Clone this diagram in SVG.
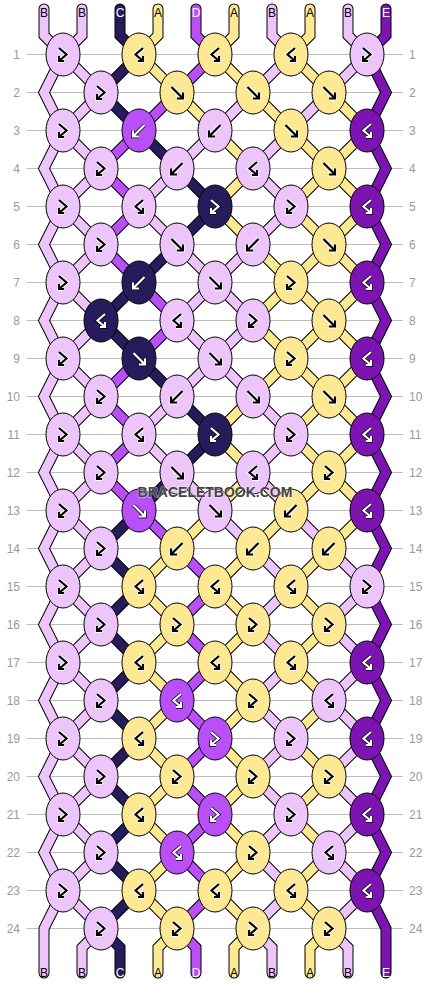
<svg xmlns="http://www.w3.org/2000/svg" xmlns:xlink="http://www.w3.org/1999/xlink" width="430" height="984" viewBox="0 0 430 984">
<style>
.grid line{stroke:#bdbdbd;stroke-width:1}
.num{font-family:"Liberation Sans",Arial,sans-serif;font-size:12px;fill:#9a9a9a}
.o{fill:none;stroke:#000;stroke-width:11;stroke-linecap:round;stroke-linejoin:miter}
.f{fill:none;stroke-width:9;stroke-linecap:round;stroke-linejoin:miter}
.sB{stroke:#eec5fb}.sA{stroke:#fde994}.sC{stroke:#261c5c}.sD{stroke:#b94ff6}.sE{stroke:#7c14b1}
ellipse{stroke:#000;stroke-width:1}
.cB{fill:#eec5fb}.cA{fill:#fde994}.cC{fill:#261c5c}.cD{fill:#b94ff6}.cE{fill:#7c14b1}
.hw{fill:none;stroke:#fff;stroke-width:4;stroke-linejoin:miter}
.ik{fill:none;stroke:#000;stroke-width:2.2;stroke-linejoin:miter}
.hk{fill:none;stroke:#000;stroke-width:3.6;stroke-linejoin:miter}
.iw{fill:none;stroke:#fff;stroke-width:2.2;stroke-linejoin:miter}
.lab{font-family:"Liberation Sans",Arial,sans-serif;font-size:12px;text-anchor:middle}
.lk{fill:#000}.lw{fill:#fff}
.wm{font-family:"Liberation Sans",Arial,sans-serif;font-size:14px;font-weight:bold;text-anchor:middle;fill:#444;stroke:#fff;stroke-width:1.2;stroke-opacity:0.6;paint-order:stroke}
</style>
<defs>
<path id="dF" d="M-5.5,-5.5 L5.5,5.5 M0,6 H6 V0"/>
<path id="dB" d="M5.5,-5.5 L-5.5,5.5 M0,6 H-6 V0"/>
<path id="dFB" d="M-4,-6.5 L3.5,0 L-4,6.5 M-4,1.5 V6.5 H1"/>
<path id="dBF" d="M4,-6.5 L-3.5,0 L4,6.5 M4,1.5 V6.5 H-1"/>
<g id="kF"><use href="#dF" class="hw"/><use href="#dF" class="ik"/></g>
<g id="kB"><use href="#dB" class="hw"/><use href="#dB" class="ik"/></g>
<g id="kFB"><use href="#dFB" class="hw"/><use href="#dFB" class="ik"/></g>
<g id="kBF"><use href="#dBF" class="hw"/><use href="#dBF" class="ik"/></g>
<g id="wF"><use href="#dF" class="hk"/><use href="#dF" class="iw"/></g>
<g id="wB"><use href="#dB" class="hk"/><use href="#dB" class="iw"/></g>
<g id="wFB"><use href="#dFB" class="hk"/><use href="#dFB" class="iw"/></g>
<g id="wBF"><use href="#dBF" class="hk"/><use href="#dBF" class="iw"/></g>
<path id="s0" d="M44,9 V35.5 L63,54.5 L44,92.5 L63,130.5 L44,168.5 L63,206.5 L44,244.5 L63,282.5 L44,320.5 L63,358.5 L44,396.5 L63,434.5 L44,472.5 L63,510.5 L44,548.5 L63,586.5 L44,624.5 L63,662.5 L44,700.5 L63,738.5 L44,776.5 L63,814.5 L44,852.5 L63,890.5 L44,928.5 V973"/>
<path id="s1" d="M82,9 V35.5 L63,54.5 L101,92.5 L63,130.5 L101,168.5 L63,206.5 L101,244.5 L63,282.5 L101,320.5 L63,358.5 L101,396.5 L63,434.5 L101,472.5 L63,510.5 L101,548.5 L63,586.5 L101,624.5 L63,662.5 L101,700.5 L63,738.5 L101,776.5 L63,814.5 L101,852.5 L63,890.5 L101,928.5 L82,947.5 V973"/>
<path id="s2" d="M120,9 V35.5 L139,54.5 L101,92.5 L139,130.5 L177,168.5 L215,206.5 L177,244.5 L139,282.5 L101,320.5 L139,358.5 L177,396.5 L215,434.5 L177,472.5 L139,510.5 L101,548.5 L139,586.5 L101,624.5 L139,662.5 L101,700.5 L139,738.5 L101,776.5 L139,814.5 L101,852.5 L139,890.5 L101,928.5 L120,947.5 V973"/>
<path id="s3" d="M158,9 V35.5 L139,54.5 L177,92.5 L215,130.5 L253,168.5 L215,206.5 L253,244.5 L291,282.5 L253,320.5 L291,358.5 L253,396.5 L215,434.5 L253,472.5 L215,510.5 L177,548.5 L139,586.5 L177,624.5 L139,662.5 L177,700.5 L139,738.5 L177,776.5 L139,814.5 L177,852.5 L139,890.5 L177,928.5 L158,947.5 V973"/>
<path id="s4" d="M196,9 V35.5 L215,54.5 L177,92.5 L139,130.5 L101,168.5 L139,206.5 L101,244.5 L139,282.5 L177,320.5 L139,358.5 L101,396.5 L139,434.5 L101,472.5 L139,510.5 L177,548.5 L215,586.5 L177,624.5 L215,662.5 L177,700.5 L215,738.5 L177,776.5 L215,814.5 L177,852.5 L215,890.5 L177,928.5 L196,947.5 V973"/>
<path id="s5" d="M234,9 V35.5 L215,54.5 L253,92.5 L291,130.5 L329,168.5 L367,206.5 L329,244.5 L291,282.5 L329,320.5 L367,358.5 L329,396.5 L291,434.5 L329,472.5 L291,510.5 L253,548.5 L215,586.5 L253,624.5 L215,662.5 L253,700.5 L215,738.5 L253,776.5 L215,814.5 L253,852.5 L215,890.5 L253,928.5 L234,947.5 V973"/>
<path id="s6" d="M272,9 V35.5 L291,54.5 L253,92.5 L215,130.5 L177,168.5 L139,206.5 L177,244.5 L215,282.5 L253,320.5 L215,358.5 L177,396.5 L139,434.5 L177,472.5 L215,510.5 L253,548.5 L291,586.5 L253,624.5 L291,662.5 L253,700.5 L291,738.5 L253,776.5 L291,814.5 L253,852.5 L291,890.5 L253,928.5 L272,947.5 V973"/>
<path id="s7" d="M310,9 V35.5 L291,54.5 L329,92.5 L367,130.5 L329,168.5 L291,206.5 L329,244.5 L367,282.5 L329,320.5 L291,358.5 L329,396.5 L367,434.5 L329,472.5 L367,510.5 L329,548.5 L291,586.5 L329,624.5 L291,662.5 L329,700.5 L291,738.5 L329,776.5 L291,814.5 L329,852.5 L291,890.5 L329,928.5 L310,947.5 V973"/>
<path id="s8" d="M348,9 V35.5 L367,54.5 L329,92.5 L291,130.5 L253,168.5 L291,206.5 L253,244.5 L215,282.5 L177,320.5 L215,358.5 L253,396.5 L291,434.5 L253,472.5 L291,510.5 L329,548.5 L367,586.5 L329,624.5 L367,662.5 L329,700.5 L367,738.5 L329,776.5 L367,814.5 L329,852.5 L367,890.5 L329,928.5 L348,947.5 V973"/>
<path id="s9" d="M386,9 V35.5 L367,54.5 L386,92.5 L367,130.5 L386,168.5 L367,206.5 L386,244.5 L367,282.5 L386,320.5 L367,358.5 L386,396.5 L367,434.5 L386,472.5 L367,510.5 L386,548.5 L367,586.5 L386,624.5 L367,662.5 L386,700.5 L367,738.5 L386,776.5 L367,814.5 L386,852.5 L367,890.5 L386,928.5 V973"/>
</defs>
<rect width="430" height="984" fill="#fff"/>
<g class="grid">
<line x1="27" x2="403" y1="54.5" y2="54.5"/><line x1="27" x2="403" y1="92.5" y2="92.5"/><line x1="27" x2="403" y1="130.5" y2="130.5"/><line x1="27" x2="403" y1="168.5" y2="168.5"/><line x1="27" x2="403" y1="206.5" y2="206.5"/><line x1="27" x2="403" y1="244.5" y2="244.5"/><line x1="27" x2="403" y1="282.5" y2="282.5"/><line x1="27" x2="403" y1="320.5" y2="320.5"/><line x1="27" x2="403" y1="358.5" y2="358.5"/><line x1="27" x2="403" y1="396.5" y2="396.5"/><line x1="27" x2="403" y1="434.5" y2="434.5"/><line x1="27" x2="403" y1="472.5" y2="472.5"/><line x1="27" x2="403" y1="510.5" y2="510.5"/><line x1="27" x2="403" y1="548.5" y2="548.5"/><line x1="27" x2="403" y1="586.5" y2="586.5"/><line x1="27" x2="403" y1="624.5" y2="624.5"/><line x1="27" x2="403" y1="662.5" y2="662.5"/><line x1="27" x2="403" y1="700.5" y2="700.5"/><line x1="27" x2="403" y1="738.5" y2="738.5"/><line x1="27" x2="403" y1="776.5" y2="776.5"/><line x1="27" x2="403" y1="814.5" y2="814.5"/><line x1="27" x2="403" y1="852.5" y2="852.5"/><line x1="27" x2="403" y1="890.5" y2="890.5"/><line x1="27" x2="403" y1="928.5" y2="928.5"/>
</g>
<g class="num" text-anchor="end">
<text x="20" y="59">1</text><text x="20" y="97">2</text><text x="20" y="135">3</text><text x="20" y="173">4</text><text x="20" y="211">5</text><text x="20" y="249">6</text><text x="20" y="287">7</text><text x="20" y="325">8</text><text x="20" y="363">9</text><text x="20" y="401">10</text><text x="20" y="439">11</text><text x="20" y="477">12</text><text x="20" y="515">13</text><text x="20" y="553">14</text><text x="20" y="591">15</text><text x="20" y="629">16</text><text x="20" y="667">17</text><text x="20" y="705">18</text><text x="20" y="743">19</text><text x="20" y="781">20</text><text x="20" y="819">21</text><text x="20" y="857">22</text><text x="20" y="895">23</text><text x="20" y="933">24</text>
</g>
<g class="num">
<text x="409" y="59">1</text><text x="409" y="97">2</text><text x="409" y="135">3</text><text x="409" y="173">4</text><text x="409" y="211">5</text><text x="409" y="249">6</text><text x="409" y="287">7</text><text x="409" y="325">8</text><text x="409" y="363">9</text><text x="409" y="401">10</text><text x="409" y="439">11</text><text x="409" y="477">12</text><text x="409" y="515">13</text><text x="409" y="553">14</text><text x="409" y="591">15</text><text x="409" y="629">16</text><text x="409" y="667">17</text><text x="409" y="705">18</text><text x="409" y="743">19</text><text x="409" y="781">20</text><text x="409" y="819">21</text><text x="409" y="857">22</text><text x="409" y="895">23</text><text x="409" y="933">24</text>
</g>
<g id="connectors">
<g id="outlines">
<use href="#s0" class="o"/><use href="#s1" class="o"/><use href="#s2" class="o"/><use href="#s3" class="o"/><use href="#s4" class="o"/><use href="#s5" class="o"/><use href="#s6" class="o"/><use href="#s7" class="o"/><use href="#s8" class="o"/><use href="#s9" class="o"/>
</g>
<g id="strands">
<use href="#s0" class="f sB"/><use href="#s1" class="f sB"/><use href="#s2" class="f sC"/><use href="#s3" class="f sA"/><use href="#s4" class="f sD"/><use href="#s5" class="f sA"/><use href="#s6" class="f sB"/><use href="#s7" class="f sA"/><use href="#s8" class="f sB"/><use href="#s9" class="f sE"/>
</g>
<g id="labels" class="lab">
<text x="44" y="17" class="lk">B</text><text x="82" y="17" class="lk">B</text><text x="120" y="17" class="lw">C</text><text x="158" y="17" class="lk">A</text><text x="196" y="17" class="lw">D</text><text x="234" y="17" class="lk">A</text><text x="272" y="17" class="lk">B</text><text x="310" y="17" class="lk">A</text><text x="348" y="17" class="lk">B</text><text x="386" y="17" class="lw">E</text>
<text x="44" y="977" class="lk">B</text><text x="82" y="977" class="lk">B</text><text x="120" y="977" class="lw">C</text><text x="158" y="977" class="lk">A</text><text x="196" y="977" class="lw">D</text><text x="234" y="977" class="lk">A</text><text x="272" y="977" class="lk">B</text><text x="310" y="977" class="lk">A</text><text x="348" y="977" class="lk">B</text><text x="386" y="977" class="lw">E</text>
</g>
</g>
<g id="knots">
<g id="k1-1"><ellipse cx="63" cy="54.5" rx="17" ry="21.5" class="cB"/><use href="#kFB" x="63" y="54.5"/></g>
<g id="k1-2"><ellipse cx="139" cy="54.5" rx="17" ry="21.5" class="cA"/><use href="#kBF" x="139" y="54.5"/></g>
<g id="k1-3"><ellipse cx="215" cy="54.5" rx="17" ry="21.5" class="cA"/><use href="#kBF" x="215" y="54.5"/></g>
<g id="k1-4"><ellipse cx="291" cy="54.5" rx="17" ry="21.5" class="cA"/><use href="#kBF" x="291" y="54.5"/></g>
<g id="k1-5"><ellipse cx="367" cy="54.5" rx="17" ry="21.5" class="cB"/><use href="#kFB" x="367" y="54.5"/></g>
<g id="k2-1"><ellipse cx="101" cy="92.5" rx="17" ry="21.5" class="cB"/><use href="#kFB" x="101" y="92.5"/></g>
<g id="k2-2"><ellipse cx="177" cy="92.5" rx="17" ry="21.5" class="cA"/><use href="#kF" x="177" y="92.5"/></g>
<g id="k2-3"><ellipse cx="253" cy="92.5" rx="17" ry="21.5" class="cA"/><use href="#kF" x="253" y="92.5"/></g>
<g id="k2-4"><ellipse cx="329" cy="92.5" rx="17" ry="21.5" class="cA"/><use href="#kF" x="329" y="92.5"/></g>
<g id="k3-1"><ellipse cx="63" cy="130.5" rx="17" ry="21.5" class="cB"/><use href="#kFB" x="63" y="130.5"/></g>
<g id="k3-2"><ellipse cx="139" cy="130.5" rx="17" ry="21.5" class="cD"/><use href="#wB" x="139" y="130.5"/></g>
<g id="k3-3"><ellipse cx="215" cy="130.5" rx="17" ry="21.5" class="cB"/><use href="#kB" x="215" y="130.5"/></g>
<g id="k3-4"><ellipse cx="291" cy="130.5" rx="17" ry="21.5" class="cA"/><use href="#kF" x="291" y="130.5"/></g>
<g id="k3-5"><ellipse cx="367" cy="130.5" rx="17" ry="21.5" class="cE"/><use href="#wBF" x="367" y="130.5"/></g>
<g id="k4-1"><ellipse cx="101" cy="168.5" rx="17" ry="21.5" class="cB"/><use href="#kFB" x="101" y="168.5"/></g>
<g id="k4-2"><ellipse cx="177" cy="168.5" rx="17" ry="21.5" class="cB"/><use href="#kB" x="177" y="168.5"/></g>
<g id="k4-3"><ellipse cx="253" cy="168.5" rx="17" ry="21.5" class="cB"/><use href="#kBF" x="253" y="168.5"/></g>
<g id="k4-4"><ellipse cx="329" cy="168.5" rx="17" ry="21.5" class="cA"/><use href="#kF" x="329" y="168.5"/></g>
<g id="k5-1"><ellipse cx="63" cy="206.5" rx="17" ry="21.5" class="cB"/><use href="#kFB" x="63" y="206.5"/></g>
<g id="k5-2"><ellipse cx="139" cy="206.5" rx="17" ry="21.5" class="cB"/><use href="#kBF" x="139" y="206.5"/></g>
<g id="k5-3"><ellipse cx="215" cy="206.5" rx="17" ry="21.5" class="cC"/><use href="#wFB" x="215" y="206.5"/></g>
<g id="k5-4"><ellipse cx="291" cy="206.5" rx="17" ry="21.5" class="cB"/><use href="#kFB" x="291" y="206.5"/></g>
<g id="k5-5"><ellipse cx="367" cy="206.5" rx="17" ry="21.5" class="cE"/><use href="#wBF" x="367" y="206.5"/></g>
<g id="k6-1"><ellipse cx="101" cy="244.5" rx="17" ry="21.5" class="cB"/><use href="#kFB" x="101" y="244.5"/></g>
<g id="k6-2"><ellipse cx="177" cy="244.5" rx="17" ry="21.5" class="cB"/><use href="#kF" x="177" y="244.5"/></g>
<g id="k6-3"><ellipse cx="253" cy="244.5" rx="17" ry="21.5" class="cB"/><use href="#kB" x="253" y="244.5"/></g>
<g id="k6-4"><ellipse cx="329" cy="244.5" rx="17" ry="21.5" class="cA"/><use href="#kF" x="329" y="244.5"/></g>
<g id="k7-1"><ellipse cx="63" cy="282.5" rx="17" ry="21.5" class="cB"/><use href="#kFB" x="63" y="282.5"/></g>
<g id="k7-2"><ellipse cx="139" cy="282.5" rx="17" ry="21.5" class="cC"/><use href="#wB" x="139" y="282.5"/></g>
<g id="k7-3"><ellipse cx="215" cy="282.5" rx="17" ry="21.5" class="cB"/><use href="#kF" x="215" y="282.5"/></g>
<g id="k7-4"><ellipse cx="291" cy="282.5" rx="17" ry="21.5" class="cA"/><use href="#kFB" x="291" y="282.5"/></g>
<g id="k7-5"><ellipse cx="367" cy="282.5" rx="17" ry="21.5" class="cE"/><use href="#wBF" x="367" y="282.5"/></g>
<g id="k8-1"><ellipse cx="101" cy="320.5" rx="17" ry="21.5" class="cC"/><use href="#wBF" x="101" y="320.5"/></g>
<g id="k8-2"><ellipse cx="177" cy="320.5" rx="17" ry="21.5" class="cB"/><use href="#kBF" x="177" y="320.5"/></g>
<g id="k8-3"><ellipse cx="253" cy="320.5" rx="17" ry="21.5" class="cB"/><use href="#kFB" x="253" y="320.5"/></g>
<g id="k8-4"><ellipse cx="329" cy="320.5" rx="17" ry="21.5" class="cA"/><use href="#kF" x="329" y="320.5"/></g>
<g id="k9-1"><ellipse cx="63" cy="358.5" rx="17" ry="21.5" class="cB"/><use href="#kFB" x="63" y="358.5"/></g>
<g id="k9-2"><ellipse cx="139" cy="358.5" rx="17" ry="21.5" class="cC"/><use href="#wF" x="139" y="358.5"/></g>
<g id="k9-3"><ellipse cx="215" cy="358.5" rx="17" ry="21.5" class="cB"/><use href="#kF" x="215" y="358.5"/></g>
<g id="k9-4"><ellipse cx="291" cy="358.5" rx="17" ry="21.5" class="cA"/><use href="#kFB" x="291" y="358.5"/></g>
<g id="k9-5"><ellipse cx="367" cy="358.5" rx="17" ry="21.5" class="cE"/><use href="#wBF" x="367" y="358.5"/></g>
<g id="k10-1"><ellipse cx="101" cy="396.5" rx="17" ry="21.5" class="cB"/><use href="#kFB" x="101" y="396.5"/></g>
<g id="k10-2"><ellipse cx="177" cy="396.5" rx="17" ry="21.5" class="cB"/><use href="#kB" x="177" y="396.5"/></g>
<g id="k10-3"><ellipse cx="253" cy="396.5" rx="17" ry="21.5" class="cB"/><use href="#kF" x="253" y="396.5"/></g>
<g id="k10-4"><ellipse cx="329" cy="396.5" rx="17" ry="21.5" class="cA"/><use href="#kF" x="329" y="396.5"/></g>
<g id="k11-1"><ellipse cx="63" cy="434.5" rx="17" ry="21.5" class="cB"/><use href="#kFB" x="63" y="434.5"/></g>
<g id="k11-2"><ellipse cx="139" cy="434.5" rx="17" ry="21.5" class="cB"/><use href="#kBF" x="139" y="434.5"/></g>
<g id="k11-3"><ellipse cx="215" cy="434.5" rx="17" ry="21.5" class="cC"/><use href="#wFB" x="215" y="434.5"/></g>
<g id="k11-4"><ellipse cx="291" cy="434.5" rx="17" ry="21.5" class="cB"/><use href="#kFB" x="291" y="434.5"/></g>
<g id="k11-5"><ellipse cx="367" cy="434.5" rx="17" ry="21.5" class="cE"/><use href="#wBF" x="367" y="434.5"/></g>
<g id="k12-1"><ellipse cx="101" cy="472.5" rx="17" ry="21.5" class="cB"/><use href="#kFB" x="101" y="472.5"/></g>
<g id="k12-2"><ellipse cx="177" cy="472.5" rx="17" ry="21.5" class="cB"/><use href="#kF" x="177" y="472.5"/></g>
<g id="k12-3"><ellipse cx="253" cy="472.5" rx="17" ry="21.5" class="cB"/><use href="#kBF" x="253" y="472.5"/></g>
<g id="k12-4"><ellipse cx="329" cy="472.5" rx="17" ry="21.5" class="cA"/><use href="#kFB" x="329" y="472.5"/></g>
<g id="k13-1"><ellipse cx="63" cy="510.5" rx="17" ry="21.5" class="cB"/><use href="#kFB" x="63" y="510.5"/></g>
<g id="k13-2"><ellipse cx="139" cy="510.5" rx="17" ry="21.5" class="cD"/><use href="#wF" x="139" y="510.5"/></g>
<g id="k13-3"><ellipse cx="215" cy="510.5" rx="17" ry="21.5" class="cB"/><use href="#kF" x="215" y="510.5"/></g>
<g id="k13-4"><ellipse cx="291" cy="510.5" rx="17" ry="21.5" class="cA"/><use href="#kB" x="291" y="510.5"/></g>
<g id="k13-5"><ellipse cx="367" cy="510.5" rx="17" ry="21.5" class="cE"/><use href="#wBF" x="367" y="510.5"/></g>
<g id="k14-1"><ellipse cx="101" cy="548.5" rx="17" ry="21.5" class="cB"/><use href="#kFB" x="101" y="548.5"/></g>
<g id="k14-2"><ellipse cx="177" cy="548.5" rx="17" ry="21.5" class="cA"/><use href="#kB" x="177" y="548.5"/></g>
<g id="k14-3"><ellipse cx="253" cy="548.5" rx="17" ry="21.5" class="cA"/><use href="#kB" x="253" y="548.5"/></g>
<g id="k14-4"><ellipse cx="329" cy="548.5" rx="17" ry="21.5" class="cA"/><use href="#kB" x="329" y="548.5"/></g>
<g id="k15-1"><ellipse cx="63" cy="586.5" rx="17" ry="21.5" class="cB"/><use href="#kFB" x="63" y="586.5"/></g>
<g id="k15-2"><ellipse cx="139" cy="586.5" rx="17" ry="21.5" class="cA"/><use href="#kBF" x="139" y="586.5"/></g>
<g id="k15-3"><ellipse cx="215" cy="586.5" rx="17" ry="21.5" class="cA"/><use href="#kBF" x="215" y="586.5"/></g>
<g id="k15-4"><ellipse cx="291" cy="586.5" rx="17" ry="21.5" class="cA"/><use href="#kBF" x="291" y="586.5"/></g>
<g id="k15-5"><ellipse cx="367" cy="586.5" rx="17" ry="21.5" class="cB"/><use href="#kFB" x="367" y="586.5"/></g>
<g id="k16-1"><ellipse cx="101" cy="624.5" rx="17" ry="21.5" class="cB"/><use href="#kFB" x="101" y="624.5"/></g>
<g id="k16-2"><ellipse cx="177" cy="624.5" rx="17" ry="21.5" class="cA"/><use href="#kFB" x="177" y="624.5"/></g>
<g id="k16-3"><ellipse cx="253" cy="624.5" rx="17" ry="21.5" class="cA"/><use href="#kFB" x="253" y="624.5"/></g>
<g id="k16-4"><ellipse cx="329" cy="624.5" rx="17" ry="21.5" class="cA"/><use href="#kFB" x="329" y="624.5"/></g>
<g id="k17-1"><ellipse cx="63" cy="662.5" rx="17" ry="21.5" class="cB"/><use href="#kFB" x="63" y="662.5"/></g>
<g id="k17-2"><ellipse cx="139" cy="662.5" rx="17" ry="21.5" class="cA"/><use href="#kBF" x="139" y="662.5"/></g>
<g id="k17-3"><ellipse cx="215" cy="662.5" rx="17" ry="21.5" class="cA"/><use href="#kBF" x="215" y="662.5"/></g>
<g id="k17-4"><ellipse cx="291" cy="662.5" rx="17" ry="21.5" class="cA"/><use href="#kBF" x="291" y="662.5"/></g>
<g id="k17-5"><ellipse cx="367" cy="662.5" rx="17" ry="21.5" class="cE"/><use href="#wBF" x="367" y="662.5"/></g>
<g id="k18-1"><ellipse cx="101" cy="700.5" rx="17" ry="21.5" class="cB"/><use href="#kFB" x="101" y="700.5"/></g>
<g id="k18-2"><ellipse cx="177" cy="700.5" rx="17" ry="21.5" class="cD"/><use href="#wBF" x="177" y="700.5"/></g>
<g id="k18-3"><ellipse cx="253" cy="700.5" rx="17" ry="21.5" class="cA"/><use href="#kFB" x="253" y="700.5"/></g>
<g id="k18-4"><ellipse cx="329" cy="700.5" rx="17" ry="21.5" class="cB"/><use href="#kBF" x="329" y="700.5"/></g>
<g id="k19-1"><ellipse cx="63" cy="738.5" rx="17" ry="21.5" class="cB"/><use href="#kFB" x="63" y="738.5"/></g>
<g id="k19-2"><ellipse cx="139" cy="738.5" rx="17" ry="21.5" class="cA"/><use href="#kBF" x="139" y="738.5"/></g>
<g id="k19-3"><ellipse cx="215" cy="738.5" rx="17" ry="21.5" class="cD"/><use href="#wFB" x="215" y="738.5"/></g>
<g id="k19-4"><ellipse cx="291" cy="738.5" rx="17" ry="21.5" class="cB"/><use href="#kFB" x="291" y="738.5"/></g>
<g id="k19-5"><ellipse cx="367" cy="738.5" rx="17" ry="21.5" class="cE"/><use href="#wBF" x="367" y="738.5"/></g>
<g id="k20-1"><ellipse cx="101" cy="776.5" rx="17" ry="21.5" class="cB"/><use href="#kFB" x="101" y="776.5"/></g>
<g id="k20-2"><ellipse cx="177" cy="776.5" rx="17" ry="21.5" class="cA"/><use href="#kFB" x="177" y="776.5"/></g>
<g id="k20-3"><ellipse cx="253" cy="776.5" rx="17" ry="21.5" class="cA"/><use href="#kFB" x="253" y="776.5"/></g>
<g id="k20-4"><ellipse cx="329" cy="776.5" rx="17" ry="21.5" class="cA"/><use href="#kFB" x="329" y="776.5"/></g>
<g id="k21-1"><ellipse cx="63" cy="814.5" rx="17" ry="21.5" class="cB"/><use href="#kFB" x="63" y="814.5"/></g>
<g id="k21-2"><ellipse cx="139" cy="814.5" rx="17" ry="21.5" class="cA"/><use href="#kBF" x="139" y="814.5"/></g>
<g id="k21-3"><ellipse cx="215" cy="814.5" rx="17" ry="21.5" class="cD"/><use href="#wFB" x="215" y="814.5"/></g>
<g id="k21-4"><ellipse cx="291" cy="814.5" rx="17" ry="21.5" class="cB"/><use href="#kFB" x="291" y="814.5"/></g>
<g id="k21-5"><ellipse cx="367" cy="814.5" rx="17" ry="21.5" class="cE"/><use href="#wBF" x="367" y="814.5"/></g>
<g id="k22-1"><ellipse cx="101" cy="852.5" rx="17" ry="21.5" class="cB"/><use href="#kFB" x="101" y="852.5"/></g>
<g id="k22-2"><ellipse cx="177" cy="852.5" rx="17" ry="21.5" class="cD"/><use href="#wBF" x="177" y="852.5"/></g>
<g id="k22-3"><ellipse cx="253" cy="852.5" rx="17" ry="21.5" class="cA"/><use href="#kFB" x="253" y="852.5"/></g>
<g id="k22-4"><ellipse cx="329" cy="852.5" rx="17" ry="21.5" class="cB"/><use href="#kBF" x="329" y="852.5"/></g>
<g id="k23-1"><ellipse cx="63" cy="890.5" rx="17" ry="21.5" class="cB"/><use href="#kFB" x="63" y="890.5"/></g>
<g id="k23-2"><ellipse cx="139" cy="890.5" rx="17" ry="21.5" class="cA"/><use href="#kBF" x="139" y="890.5"/></g>
<g id="k23-3"><ellipse cx="215" cy="890.5" rx="17" ry="21.5" class="cA"/><use href="#kBF" x="215" y="890.5"/></g>
<g id="k23-4"><ellipse cx="291" cy="890.5" rx="17" ry="21.5" class="cA"/><use href="#kBF" x="291" y="890.5"/></g>
<g id="k23-5"><ellipse cx="367" cy="890.5" rx="17" ry="21.5" class="cE"/><use href="#wBF" x="367" y="890.5"/></g>
<g id="k24-1"><ellipse cx="101" cy="928.5" rx="17" ry="21.5" class="cB"/><use href="#kFB" x="101" y="928.5"/></g>
<g id="k24-2"><ellipse cx="177" cy="928.5" rx="17" ry="21.5" class="cA"/><use href="#kFB" x="177" y="928.5"/></g>
<g id="k24-3"><ellipse cx="253" cy="928.5" rx="17" ry="21.5" class="cA"/><use href="#kFB" x="253" y="928.5"/></g>
<g id="k24-4"><ellipse cx="329" cy="928.5" rx="17" ry="21.5" class="cA"/><use href="#kFB" x="329" y="928.5"/></g>
</g>
<text x="215" y="497" class="wm">BRACELETBOOK.COM</text>
</svg>
